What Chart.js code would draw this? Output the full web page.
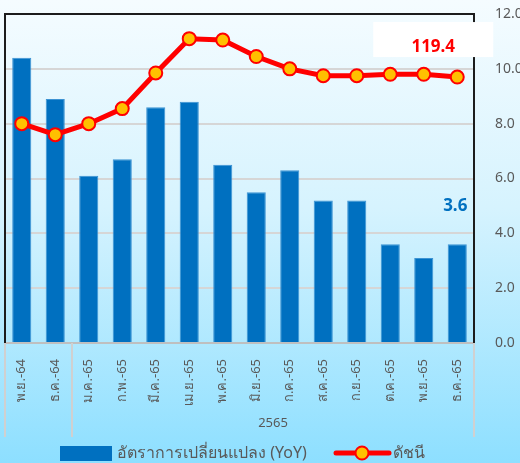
<!DOCTYPE html>
<html>
<head>
<meta charset="utf-8">
<script src="https://cdn.jsdelivr.net/npm/chart.js@4.4.1/dist/chart.umd.min.js"></script>
<style>
  html, body { margin: 0; padding: 0; overflow: hidden; }
  body {
    width: 520px; height: 463px;
    background: linear-gradient(to bottom, #f5fcff 0%, #d6f3fe 45%, #8ddfff 100%);
  }
  canvas { display: block; }
</style>
</head>
<body>
<canvas id="chart" width="520" height="463"></canvas>
<script>
// Data
const months = ['พ.ย.-64', 'ธ.ค.-64', 'ม.ค.-65', 'ก.พ.-65', 'มี.ค.-65', 'เม.ย.-65', 'พ.ค.-65',
  'มิ.ย.-65', 'ก.ค.-65', 'ส.ค.-65', 'ก.ย.-65', 'ต.ค.-65', 'พ.ย.-65', 'ธ.ค.-65'];
const yoyValues = [10.4, 8.9, 6.1, 6.7, 8.6, 8.8, 6.5, 5.5, 6.3, 5.2, 5.2, 3.6, 3.1, 3.6];
const indexValues = [116.0, 115.2, 116.0, 117.1, 119.7, 122.2, 122.1, 120.9, 120.0, 119.5, 119.5, 119.6, 119.6, 119.4];
const rightTicks = [0, 2, 4, 6, 8, 10, 12];
const yearGroups = [{ label: '', from: 0, to: 1 }, { label: '2565', from: 2, to: 13 }];
const yoyLabel = 'อัตราการเปลี่ยนแปลง (YoY)';
const indexLabel = 'ดัชนี';

const FONT = "Tahoma, 'Noto Sans', 'DejaVu Sans', sans-serif";
const GREY = '#595959';

// frame, separators, year label, value labels, legend
const decorations = {
  id: 'decorations',
  beforeDatasetsDraw(chart) {
    const { ctx, chartArea: a } = chart;
    ctx.save();
    ctx.strokeStyle = '#1c1c1c';
    ctx.lineWidth = 2;
    ctx.beginPath();
    ctx.moveTo(a.left, a.bottom);
    ctx.lineTo(a.left, a.top);
    ctx.lineTo(a.right, a.top);
    ctx.lineTo(a.right, a.bottom);
    ctx.stroke();
    ctx.restore();
  },
  afterDraw(chart) {
    const { ctx, chartArea: a, scales } = chart;
    const x = scales.x;
    const step = x.getPixelForValue(1) - x.getPixelForValue(0);

    ctx.save();
    // year group separators
    ctx.strokeStyle = '#d0d0d0';
    ctx.lineWidth = 2;
    const edges = [a.left];
    yearGroups.forEach(g => edges.push(x.getPixelForValue(g.to) + step / 2));
    edges.forEach(px => {
      ctx.beginPath();
      ctx.moveTo(px, a.bottom);
      ctx.lineTo(px, 437);
      ctx.stroke();
    });
    // year labels
    ctx.fillStyle = GREY;
    ctx.font = '13px ' + FONT;
    ctx.textAlign = 'center';
    ctx.textBaseline = 'middle';
    yearGroups.forEach(g => {
      if (!g.label) return;
      const cx = (x.getPixelForValue(g.from) + x.getPixelForValue(g.to)) / 2;
      ctx.fillText(g.label, cx, 423);
    });

    // last value labels
    const last = months.length - 1;
    const lp = chart.getDatasetMeta(1).data[last];
    ctx.fillStyle = '#ffffff';
    ctx.fillRect(lp.x - 84, lp.y - 55, 120, 35);
    ctx.fillStyle = '#ff0000';
    ctx.font = 'bold 17px ' + FONT;
    ctx.fillText(indexValues[last].toFixed(1), lp.x - 24, lp.y - 30);

    const bp = chart.getDatasetMeta(0).data[last];
    ctx.fillStyle = '#0070c0';
    ctx.fillText(yoyValues[last].toFixed(1), bp.x - 2, bp.y - 38);

    // legend
    const ly = 453;
    ctx.fillStyle = '#0070c0';
    ctx.fillRect(60, ly - 7, 52, 15);
    ctx.fillStyle = GREY;
    ctx.font = '16px ' + FONT;
    ctx.textAlign = 'left';
    ctx.fillText(yoyLabel, 117, ly);

    ctx.strokeStyle = '#ff0000';
    ctx.lineWidth = 5;
    ctx.lineCap = 'round';
    ctx.beginPath();
    ctx.moveTo(336, ly);
    ctx.lineTo(389, ly);
    ctx.stroke();
    ctx.beginPath();
    ctx.arc(362, ly, 6.5, 0, Math.PI * 2);
    ctx.fillStyle = '#ffc000';
    ctx.fill();
    ctx.lineWidth = 2;
    ctx.stroke();
    ctx.fillStyle = GREY;
    ctx.fillText(indexLabel, 393, ly);
    ctx.restore();
  }
};

new Chart(document.getElementById('chart'), {
  data: {
    labels: months,
    datasets: [
      {
        type: 'bar',
        label: yoyLabel,
        data: yoyValues,
        yAxisID: 'y1',
        backgroundColor: '#0070c0',
        borderColor: '#3c93d3',
        borderWidth: 1,
        barPercentage: 0.57,
        categoryPercentage: 1,
        order: 2
      },
      {
        type: 'line',
        label: indexLabel,
        data: indexValues,
        yAxisID: 'y',
        borderColor: '#ff0000',
        borderWidth: 5,
        pointRadius: 6.5,
        pointBorderWidth: 2,
        pointBackgroundColor: '#ffc000',
        pointBorderColor: '#ff0000',
        tension: 0,
        order: 1
      }
    ]
  },
  options: {
    responsive: false,
    animation: false,
    devicePixelRatio: 1,
    layout: { autoPadding: false, padding: { left: 5, top: 14, right: 0, bottom: 0 } },
    plugins: {
      legend: { display: false },
      tooltip: { enabled: false }
    },
    scales: {
      x: {
        offset: true,
        grid: { display: false },
        border: { color: '#bfbfbf', width: 2 },
        ticks: {
          minRotation: 90,
          maxRotation: 90,
          padding: 8,
          color: GREY,
          font: { family: FONT, size: 13 }
        },
        afterFit(scale) {
          scale.height = 120;
          scale.paddingLeft = 0;
          scale.paddingRight = 0;
        }
      },
      y: {
        display: false,
        position: 'left',
        min: 100,
        max: 124
      },
      y1: {
        position: 'right',
        min: 0,
        max: 12,
        afterBuildTicks(scale) { scale.ticks = rightTicks.map(v => ({ value: v })); },
        border: { display: false },
        grid: { color: '#d6d6d6', lineWidth: 2, drawTicks: false },
        ticks: {
          padding: 21,
          color: GREY,
          font: { family: FONT, size: 14 },
          callback: v => v.toFixed(1)
        },
        afterFit(scale) {
          scale.width = 46;
          scale.paddingTop = 0;
          scale.paddingBottom = 0;
        }
      }
    }
  },
  plugins: [decorations]
});
</script>
</body>
</html>
